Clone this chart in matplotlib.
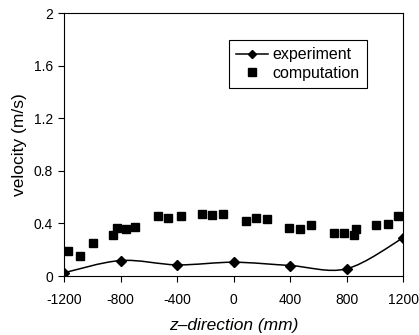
import matplotlib.pyplot as plt
import matplotlib as mpl
import numpy as np
from matplotlib.path import Path
from matplotlib.patches import PathPatch
from matplotlib.lines import Line2D
from matplotlib.ticker import FuncFormatter

mpl.rcParams.update({
    'font.family': ['Liberation Sans', 'DejaVu Sans'],
    'font.size': 10,
    'axes.unicode_minus': False,
    'xtick.direction': 'out',
    'ytick.direction': 'out',
    'xtick.major.size': 4,
    'ytick.major.size': 4,
    'axes.linewidth': 0.8,
})

# ── data ──
exp_z = [-1200, -800, -400, 0, 400, 800, 1200]
exp_v = [0.025, 0.118, 0.085, 0.105, 0.08, 0.055, 0.29]

comp_z = [-1170, -1090, -997, -851, -827, -763, -697, -533, -462, -374,
          -225, -150, -73, 86, 159, 235, 394, 470, 546, 711, 782, 852,
          866, 1006, 1095, 1166]
comp_v = [0.19, 0.15, 0.255, 0.315, 0.365, 0.355, 0.375, 0.455, 0.445, 0.455,
          0.475, 0.465, 0.475, 0.415, 0.445, 0.435, 0.365, 0.355, 0.385,
          0.33, 0.33, 0.315, 0.355, 0.385, 0.395, 0.455]

x_ticks = [-1200, -800, -400, 0, 400, 800, 1200]
y_ticks = [0, 0.4, 0.8, 1.2, 1.6, 2]


def smooth_path(xs, ys, t=1 / 6):
    # Excel-style smoothed line as cubic Bezier segments
    xs = np.asarray(xs, float)
    ys = np.asarray(ys, float)
    n = len(xs)
    verts = [(xs[0], ys[0])]
    codes = [Path.MOVETO]
    for i in range(n - 1):
        p0 = np.array([xs[max(i - 1, 0)], ys[max(i - 1, 0)]])
        p1 = np.array([xs[i], ys[i]])
        p2 = np.array([xs[i + 1], ys[i + 1]])
        p3 = np.array([xs[min(i + 2, n - 1)], ys[min(i + 2, n - 1)]])
        c1 = p1 + (p2 - p0) * t
        c2 = p2 - (p3 - p1) * t
        verts += [tuple(c1), tuple(c2), tuple(p2)]
        codes += [Path.CURVE4] * 3
    return Path(verts, codes)


fig = plt.figure(figsize=(4.19, 3.35), dpi=100)
ax = fig.add_axes([0.153, 0.176, 0.809, 0.785])

ax.add_patch(PathPatch(smooth_path(exp_z, exp_v), facecolor='none',
                       edgecolor='black', linewidth=1.1, zorder=3))
ax.plot(exp_z, exp_v, linestyle='none', marker='D', markersize=5,
        color='black', zorder=4)
ax.plot(comp_z, comp_v, linestyle='none', marker='s', markersize=6.3,
        color='black', zorder=4)

ax.set_xlim(-1200, 1200)
ax.set_ylim(0, 2)
ax.set_xticks(x_ticks)
ax.set_yticks(y_ticks)
ax.yaxis.set_major_formatter(FuncFormatter(lambda v, p: f'{v:g}'))
ax.tick_params(axis='both', labelsize=10, width=0.8)
ax.tick_params(axis='x', pad=8)
ax.tick_params(axis='y', pad=4)

ax.set_xlabel('z\u2013direction (mm)', fontsize=12.5, style='italic',
              labelpad=8)
ax.set_ylabel('velocity (m/s)', fontsize=12.5, labelpad=5)

handles = [
    Line2D([], [], color='black', marker='D', markersize=4.2, linewidth=1.1),
    Line2D([], [], color='black', marker='s', markersize=6, linestyle='none'),
]
leg = ax.legend(handles, ['experiment', 'computation'], loc='upper left',
                bbox_to_anchor=(0.487, 0.897), borderaxespad=0,
                frameon=True, fancybox=False, edgecolor='black',
                framealpha=1, fontsize=11.5, handlelength=2.0,
                borderpad=0.45, labelspacing=0.2, handletextpad=0.25)
leg.get_frame().set_linewidth(0.8)

fig.savefig('out.png', dpi=100)
